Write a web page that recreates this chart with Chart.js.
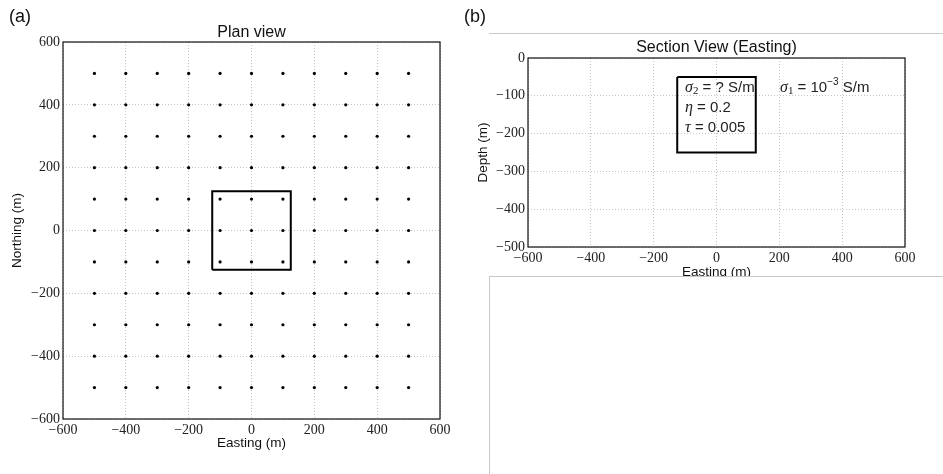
<!DOCTYPE html>
<html>
<head>
<meta charset="utf-8">
<script src="https://cdn.jsdelivr.net/npm/chart.js@4"></script>
<style>
  body { margin: 0; background: #fff; width: 943px; height: 474px; position: relative; overflow: hidden; }
  canvas { position: absolute; }
  .sep { position: absolute; background: #fff; }
</style>
</head>
<body>
<div style="position:absolute;left:0;top:0;width:470px;height:474px"><canvas id="plan"></canvas></div>
<div style="position:absolute;left:455px;top:0;width:488px;height:290px"><canvas id="sect"></canvas></div>
<div class="sep" style="left:489px;top:33px;width:454px;height:0;border-top:1px solid #c8c8c8"></div>
<div class="sep" style="left:489px;top:276px;width:454px;height:198px;border-top:1px solid #c8c8c8;border-left:1px solid #c8c8c8"></div>
<script>
// station grid (m)
const eastings = [-500, -400, -300, -200, -100, 0, 100, 200, 300, 400, 500];
const northings = [-500, -400, -300, -200, -100, 0, 100, 200, 300, 400, 500];

// target block outline
const planBoxX = [-125, 125, 125, -125, -125];
const planBoxY = [-125, -125, 125, 125, -125];
const sectBoxX = [-125, 125, 125, -125, -125];
const sectBoxY = [-50, -50, -250, -250, -50];

// tick labels
const eastTicks = [-600, -400, -200, 0, 200, 400, 600];
const northTicks = [-600, -400, -200, 0, 200, 400, 600];
const depthTicks = [-500, -400, -300, -200, -100, 0];

const stations = [];
northings.forEach(n => eastings.forEach(e => stations.push({ x: e, y: n })));

const tickFont = { family: "'Liberation Serif', serif", size: 14 };
const fmt = v => String(v).replace('-', '\u2212');

function axis(min, max, ticks, fitKey, fitVal) {
  return {
    type: 'linear', min: min, max: max,
    afterBuildTicks: s => { s.ticks = ticks.map(v => ({ value: v })); },
    afterFit: s => { s[fitKey] = fitVal; },
    grid: { color: '#c4c4c4', lineWidth: 1, drawTicks: false },
    border: { display: false, dash: [1, 2] },
    ticks: { font: tickFont, color: '#222', padding: 3, callback: fmt, maxRotation: 0, autoSkip: false }
  };
}

function runs(ctx, x, y, parts) {
  parts.forEach(p => {
    ctx.font = p.f;
    ctx.fillText(p.t, x, y + (p.dy || 0));
    x += ctx.measureText(p.t).width;
  });
}

function framePlugin(texts) {
  return {
    id: 'frame',
    afterDraw(chart) {
      const { ctx, chartArea: a } = chart;
      ctx.save();
      ctx.strokeStyle = '#111';
      ctx.lineWidth = 1.2;
      ctx.strokeRect(a.left, a.top, a.right - a.left, a.bottom - a.top);
      ctx.fillStyle = '#111';
      ctx.textBaseline = 'middle';
      texts(ctx, a);
      ctx.restore();
    }
  };
}

const sans = s => s + "px 'Liberation Sans', Arial, sans-serif";
const ital = s => "italic " + s + "px 'Liberation Serif', serif";
const sub = "11px 'Liberation Serif', serif";

new Chart(document.getElementById('plan'), {
  type: 'scatter',
  data: {
    datasets: [
      { data: stations, pointRadius: 1.6, backgroundColor: '#000', borderWidth: 0, pointHoverRadius: 1.6 },
      { data: planBoxX.map((x, i) => ({ x: x, y: planBoxY[i] })), showLine: true, borderColor: '#000', borderWidth: 2, pointRadius: 0, fill: false }
    ]
  },
  options: {
    responsive: true, maintainAspectRatio: false, animation: false,
    layout: { padding: { left: 0, top: 42, right: 30, bottom: 0 } },
    plugins: { legend: { display: false }, tooltip: { enabled: false } },
    scales: {
      x: axis(-600, 600, eastTicks, 'height', 55),
      y: axis(-600, 600, northTicks, 'width', 63)
    }
  },
  plugins: [framePlugin((ctx, a) => {
    ctx.textAlign = 'left';
    ctx.font = sans(18);
    ctx.fillText('(a)', 9, 17);
    ctx.textAlign = 'center';
    ctx.font = sans(16);
    ctx.fillText('Plan view', (a.left + a.right) / 2, 33);
    ctx.font = sans(13.5);
    ctx.fillText('Easting (m)', (a.left + a.right) / 2, 443);
    ctx.save();
    ctx.translate(17, (a.top + a.bottom) / 2);
    ctx.rotate(-Math.PI / 2);
    ctx.fillText('Northing (m)', 0, 0);
    ctx.restore();
  })]
});

new Chart(document.getElementById('sect'), {
  type: 'scatter',
  data: {
    datasets: [
      { data: sectBoxX.map((x, i) => ({ x: x, y: sectBoxY[i] })), showLine: true, borderColor: '#000', borderWidth: 2, pointRadius: 0, fill: false }
    ]
  },
  options: {
    responsive: true, maintainAspectRatio: false, animation: false,
    layout: { padding: { left: 0, top: 58, right: 38, bottom: 0 } },
    plugins: { legend: { display: false }, tooltip: { enabled: false } },
    scales: {
      x: axis(-600, 600, eastTicks, 'height', 43),
      y: axis(-500, 0, depthTicks, 'width', 73)
    }
  },
  plugins: [framePlugin((ctx, a) => {
    ctx.textAlign = 'left';
    ctx.font = sans(18);
    ctx.fillText('(b)', 9, 17);
    ctx.textAlign = 'center';
    ctx.font = sans(16);
    ctx.fillText('Section View (Easting)', (a.left + a.right) / 2, 48);
    ctx.font = sans(13.5);
    ctx.fillText('Easting (m)', (a.left + a.right) / 2, 272);
    ctx.save();
    ctx.translate(28, (a.top + a.bottom) / 2);
    ctx.rotate(-Math.PI / 2);
    ctx.fillText('Depth (m)', 0, 0);
    ctx.restore();
    ctx.textAlign = 'left';
    ctx.fillStyle = '#222';
    runs(ctx, 230, 88, [{ t: '\u03c3', f: ital(16) }, { t: '2', f: sub, dy: 3 }, { t: ' = ? S/m', f: sans(15) }]);
    runs(ctx, 230, 108, [{ t: '\u03b7', f: ital(16) }, { t: ' = 0.2', f: sans(15) }]);
    runs(ctx, 230, 128, [{ t: '\u03c4', f: ital(16) }, { t: ' = 0.005', f: sans(15) }]);
    runs(ctx, 325, 88, [{ t: '\u03c3', f: ital(16) }, { t: '1', f: sub, dy: 3 }, { t: ' = 10', f: sans(15) }, { t: '\u22123', f: sans(10), dy: -6 }, { t: ' S/m', f: sans(15) }]);
  })]
});
</script>
</body>
</html>
